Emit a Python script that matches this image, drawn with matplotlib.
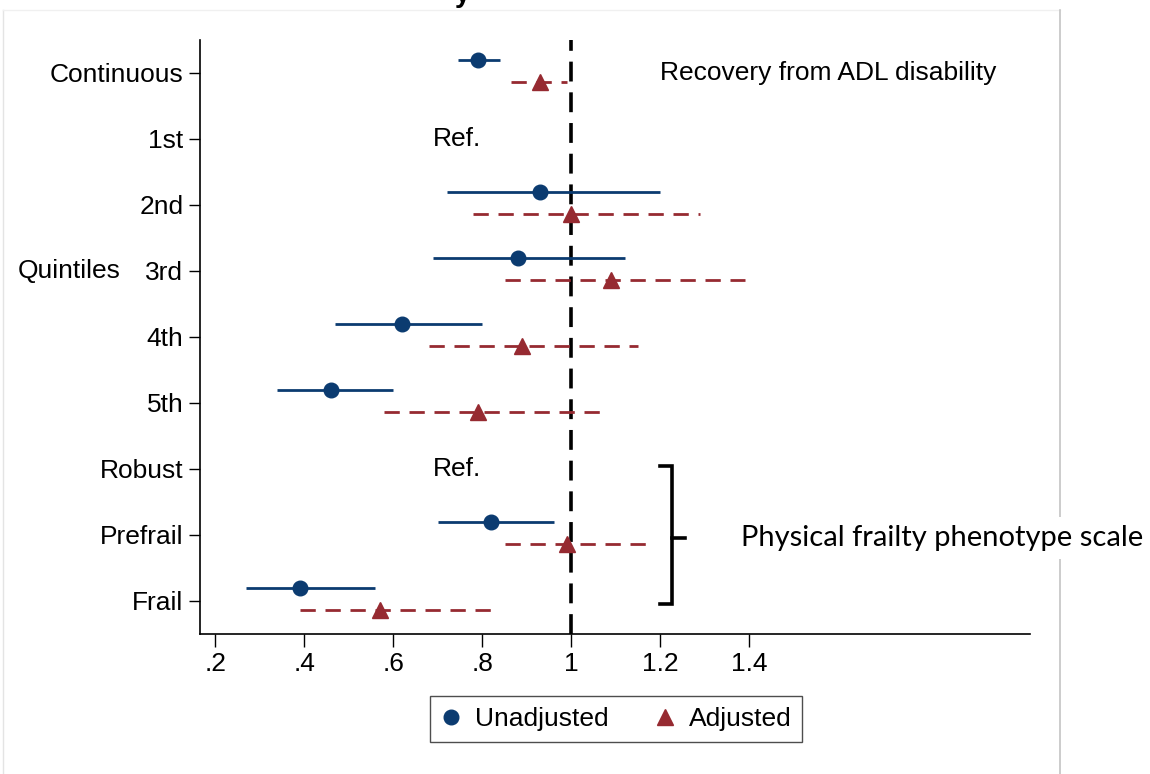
import matplotlib.pyplot as plt
import matplotlib.transforms as mtransforms
from matplotlib.lines import Line2D

plt.rcParams['font.family'] = ['Liberation Sans', 'DejaVu Sans']

# Row labels (top to bottom) and estimates
rows = ["Continuous", "1st", "2nd", "3rd", "4th", "5th", "Robust", "Prefrail", "Frail"]
ref_rows = ["1st", "Robust"]

# Unadjusted: point estimate, lower CI, upper CI (None = reference)
unadj_est = [0.79, None, 0.93, 0.88, 0.62, 0.46, None, 0.82, 0.39]
unadj_lo = [0.745, None, 0.72, 0.69, 0.47, 0.34, None, 0.70, 0.27]
unadj_hi = [0.84, None, 1.20, 1.12, 0.80, 0.60, None, 0.96, 0.56]

# Adjusted
adj_est = [0.93, None, 1.00, 1.09, 0.89, 0.79, None, 0.99, 0.57]
adj_lo = [0.865, None, 0.78, 0.85, 0.68, 0.58, None, 0.85, 0.39]
adj_hi = [0.99, None, 1.29, 1.39, 1.15, 1.07, None, 1.18, 0.835]

xticks = [0.2, 0.4, 0.6, 0.8, 1.0, 1.2, 1.4]
xticklabels = [".2", ".4", ".6", ".8", "1", "1.2", "1.4"]

blue = "#0b3b70"
red = "#962a31"
fs = 19

fig = plt.figure(figsize=(11.5, 7.74), dpi=100)
ax = fig.add_axes([200 / 1150, 1 - 634 / 774, 830 / 1150, 594 / 774])

ypos = list(range(1, len(rows) + 1))
off_u, off_a = -0.19, 0.14

for i, y in enumerate(ypos):
    if unadj_est[i] is not None:
        ax.plot([unadj_lo[i], unadj_hi[i]], [y + off_u] * 2, color=blue, lw=2.0,
                solid_capstyle='butt', zorder=2)
        ax.plot(unadj_est[i], y + off_u, 'o', color=blue, ms=10.5, zorder=3)
    if adj_est[i] is not None:
        ax.plot([adj_lo[i], adj_hi[i]], [y + off_a] * 2, color=red, lw=2.0,
                dashes=(5.5, 3.5), zorder=2)
        ax.plot(adj_est[i], y + off_a, '^', color=red, ms=11.5, zorder=3)

for r in ref_rows:
    ax.text(0.69, rows.index(r) + 1, "Ref.", fontsize=fs, va='center', ha='left')

ax.axvline(1.0, color='black', lw=2.6, dashes=(5.5, 3), zorder=1)

ax.set_xlim(0.166, 2.03)
ax.set_ylim(9.5, 0.5)
ax.set_yticks(ypos)
ax.set_yticklabels(rows, fontsize=fs)
ax.set_xticks(xticks)
ax.set_xticklabels(xticklabels, fontsize=fs)
ax.tick_params(axis='y', length=8, width=1, pad=4)
ax.tick_params(axis='x', length=9, width=1, pad=4)
ax.spines['top'].set_visible(False)
ax.spines['right'].set_visible(False)
ax.spines['left'].set_linewidth(1.2)
ax.spines['bottom'].set_linewidth(1.2)

# group label to the left of "3rd"
trans = mtransforms.blended_transform_factory(fig.transFigure, ax.transData)
ax.text(18 / 1150, rows.index("3rd") + 1, "Quintiles", transform=trans,
        fontsize=fs, va='center', ha='left')

ax.text(1.198, 1, "Recovery from ADL disability", fontsize=fs, va='center', ha='left')

# bracket for frailty rows
bx, by0, by1, bym = 1.227, 6.95, 9.05, 8.05
ax.plot([1.20, bx, bx, 1.20], [by0, by0, by1, by1], color='black', lw=2.6,
        clip_on=False, solid_joinstyle='miter')
ax.plot([bx, 1.256], [bym, bym], color='black', lw=2.6, clip_on=False)

# outer light frame of the screenshot
fig.add_artist(Line2D([3 / 1150, 3 / 1150], [0, 764 / 774], color='#e4e4e4', lw=1))
fig.add_artist(Line2D([3 / 1150, 1060 / 1150], [764 / 774, 764 / 774], color='#f0f0f0', lw=1))
fig.add_artist(Line2D([1060 / 1150, 1060 / 1150], [0, 764 / 774], color='#c4c4c4', lw=1.2))

fig.text(741 / 1150, 1 - 538 / 774, "Physical frailty phenotype scale",
         family='Lato', fontsize=21, va='center', ha='left',
         bbox=dict(facecolor='white', edgecolor='none', pad=6))

# clipped bold fragment at the very top
fig.text(455 / 1150, 1 - 2 / 774, "y", fontsize=20, fontweight='bold', va='baseline')

handles = [Line2D([], [], marker='o', color=blue, ls='none', ms=10.5),
           Line2D([], [], marker='^', color=red, ls='none', ms=11.5)]
leg = fig.legend(handles, ["Unadjusted", "Adjusted"], loc='center',
                 bbox_to_anchor=(616 / 1150, 1 - 719 / 774), ncol=2, fontsize=fs,
                 frameon=True, fancybox=False, handlelength=0.8, handletextpad=0.5,
                 columnspacing=1.75, borderpad=0.4)
leg.get_frame().set_edgecolor('#222222')
leg.get_frame().set_linewidth(1.0)

fig.savefig("out.png", dpi=100)
